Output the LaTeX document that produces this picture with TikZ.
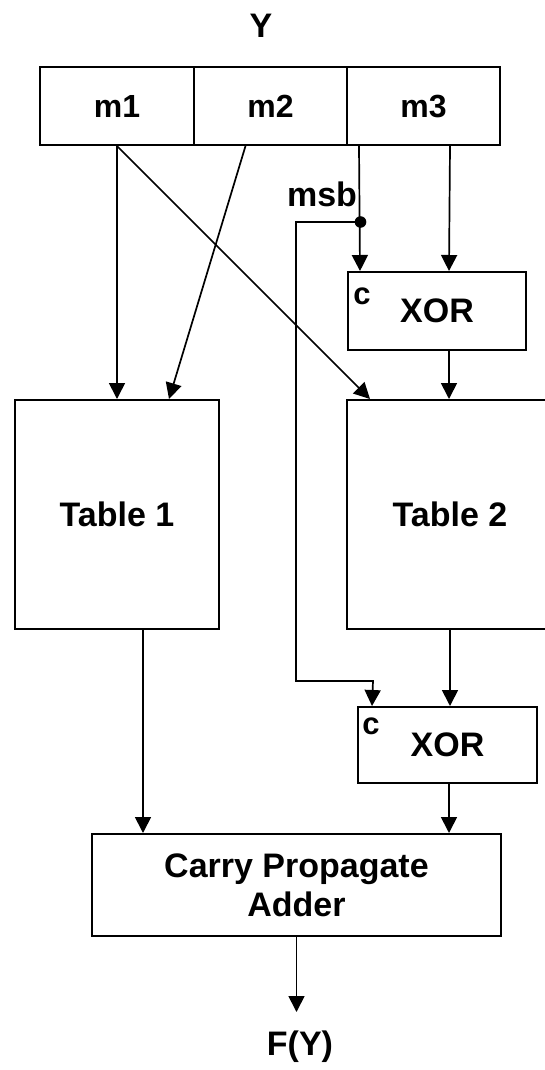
\documentclass[tikz,border=0pt]{standalone}
\usepackage{fontspec}
\setmainfont{Liberation Sans}
\usetikzlibrary{arrows.meta, positioning}
\tikzset{
every node/.style={font=\fontsize{34}{39}\selectfont\bfseries},
blk/.style={draw, line width=2pt, inner sep=0pt, align=center}, % plain box
fld/.style={blk, minimum width=153pt, minimum height=78pt, text height=23pt, text depth=0pt, font=\fontsize{32}{37}\selectfont\bfseries}, % field of Y
cin/.style={font=\fontsize{31}{36}\selectfont\bfseries}, % carry-in mark
}
\begin{document}
\begin{tikzpicture}[x=1pt, y=-1pt, line width=1.7pt, >={Triangle[length=16pt,width=16pt]}]
\useasboundingbox (0,0) rectangle (544,1070);
\node (y) at (261,26) {Y};
\node[fld, minimum width=154pt] (m1) at (117,106) {m1};
\node[fld] (m2) at (270.5,106) {m2};
\node[fld] (m3) at (423.5,106) {m3};

\node[blk, minimum width=178pt, minimum height=78pt] (xora) at (437,311) {XOR};
\node[blk, minimum width=204pt, minimum height=229pt] (tab1) at (117,514.5) {Table 1};
\node[blk, minimum width=206pt, minimum height=229pt] (tab2) at (450,514.5) {Table 2};
\node[blk, minimum width=179pt, minimum height=76pt] (xorb) at (447.5,745) {XOR};
\node[blk, minimum width=409pt, minimum height=102pt] (cpa) at (296.5,885) {Carry Propagate\\Adder};
\node (fy) at (300,1047) {F(Y)};

\node[cin] (ca) at ([xshift=15pt,yshift=-25pt]xora.north west) {c};
\node[cin] (cb) at ([xshift=14pt,yshift=-20pt]xorb.north west) {c};
\node (msb) at (322,194) {msb};

% bits of m3
\coordinate (lsb) at ([xshift=13pt]m3.south west);
\coordinate (dot) at (360.5,222);
\coordinate (up) at (296,222);
\coordinate (dn) at (296,681);
\coordinate (cb in) at (373,681);
\coordinate (out) at (296.5,1012);

% edges
\draw[->] (m1.south) -- (tab1.north); % m1 to Table 1
\draw[->] (m1.south) -- ([xshift=24pt]tab2.north west); % m1 to Table 2
\draw[->] ([xshift=-25pt]m2.south) -- ([xshift=52pt]tab1.north); % m2 to Table 1
\draw[->] (lsb) -- ([xshift=13pt]xora.north west); % msb to c
\draw[->] ([xshift=-51pt]m3.south east) -- ([xshift=12pt]xora.north); % m3 to XOR
\draw[->] ([xshift=12pt]xora.south) -- ([xshift=-1pt]tab2.north); % XOR to Table 2
\fill (dot) circle (5.8pt);
\draw[->] (dot) -- (up) -- (dn) -- (cb in) -- ([xshift=15pt]xorb.north west); % msb to c
\draw[->] (tab2.south) -- ([xshift=2.5pt]xorb.north); % Table 2 to XOR
\draw[->] ([xshift=26pt]tab1.south) -- ([xshift=-153.5pt]cpa.north); % Table 1 to adder
\draw[->] ([xshift=1.5pt]xorb.south) -- ([xshift=152.5pt]cpa.north); % XOR to adder
\draw[->] (cpa.south) -- (out); % adder to F(Y)
\end{tikzpicture}
\end{document}
